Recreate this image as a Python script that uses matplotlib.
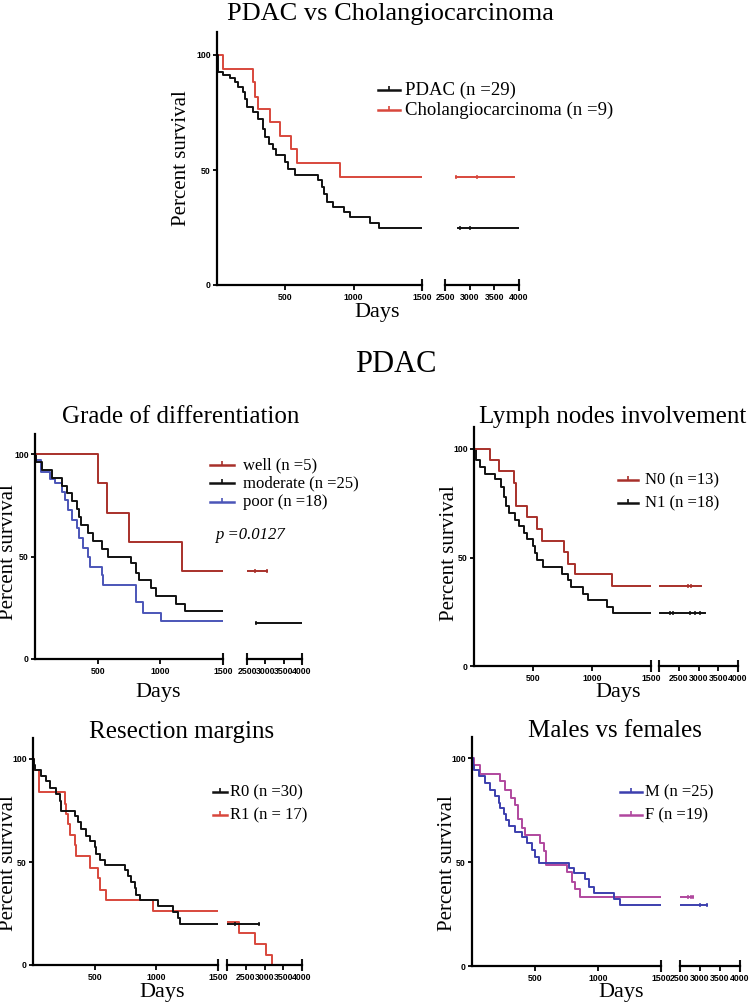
import numpy as np
import matplotlib
matplotlib.use('Agg')
import matplotlib.pyplot as plt
from matplotlib.lines import Line2D

plt.rcParams['font.family'] = ['Liberation Serif', 'DejaVu Serif']

# ---- data (days, percent survival) ----
# PDAC vs Cholangiocarcinoma
pdac_t = [0, 5, 46, 95, 132, 156, 188, 205, 222, 261, 303, 335, 352, 383, 413, 432,
          498, 523, 571, 742, 767, 784, 803, 852, 926, 974, 1121, 1182, 1500]
pdac_s = [100, 92.8, 91.3, 89.9, 88.2, 86.0, 83.8, 80.9, 77.3, 75.4, 72.3, 67.9, 64.3,
          61.4, 59.2, 56.4, 53.5, 50.6, 47.7, 45.5, 42.6, 39.7, 36.1, 34.0, 31.8, 29.6,
          27.0, 24.9, 24.9]
pdac_t2 = [2770, 4000]
pdac_s2 = [24.9, 24.9]
pdac_cens = [2800, 3000]

chol_t = [0, 46, 261, 278, 303, 388, 462, 540, 584, 901, 1500]
chol_s = [100, 93.9, 88.2, 81.9, 76.6, 70.8, 64.7, 59.0, 53.0, 47.0, 47.0]
chol_t2 = [2720, 3890]
chol_s2 = [47.0, 47.0]
chol_cens = [2720, 3150]

# Grade of differentiation
well_t = [0, 499, 576, 748, 1175, 1500]
well_s = [100, 85.7, 71.4, 57.1, 42.9, 42.9]
well_t2 = [2500, 3040]
well_s2 = [42.9, 42.9]
well_cens = [2725, 3040]

moderate_t = [0, 8, 53, 133, 212, 252, 292, 332, 353, 371, 424, 464, 531, 584, 769,
              804, 830, 928, 968, 1127, 1194, 1500]
moderate_s = [100, 96.2, 92.3, 88.5, 84.6, 80.8, 76.9, 73.1, 69.2, 65.4, 61.5, 57.7,
              53.8, 50.0, 46.8, 41.9, 38.6, 34.6, 30.5, 27.0, 23.2, 23.2]
moderate_t2 = [2750, 4000]
moderate_s2 = [17.5, 17.5]
moderate_cens = [2750]

poor_t = [0, 8, 45, 119, 159, 212, 239, 265, 292, 332, 350, 385, 424, 438, 531, 544,
          809, 862, 1008, 1500]
poor_s = [100, 97, 91, 88, 85.7, 81.7, 77.6, 72.7, 67.9, 63.8, 59, 54, 50, 45, 41,
          36.2, 27.6, 22.4, 18.3, 18.3]

# Lymph nodes involvement
n0_t = [0, 133, 210, 340, 354, 451, 536, 578, 766, 800, 856, 1168, 1500]
n0_s = [100, 94.9, 89.8, 84.2, 73.7, 68.5, 63.1, 57.7, 52.6, 47.2, 42.2, 36.8, 36.8]
n0_t2 = [2000, 3072]
n0_s2 = [36.8, 36.8]
n0_cens = [2734, 2818]

n1_t = [0, 20, 48, 91, 176, 232, 252, 269, 298, 346, 383, 422, 445, 496, 516, 530,
        587, 743, 800, 820, 927, 970, 1126, 1182, 1500]
n1_s = [100, 95, 91.5, 88.5, 86.2, 82.3, 77.7, 73.8, 70.3, 67.5, 64.6, 61.5, 58.5,
        55.4, 52.3, 48.8, 45.7, 42.6, 39.5, 36.5, 33.4, 30.3, 27.2, 24.6, 24.6]
n1_t2 = [2000, 3156]
n1_s2 = [24.6, 24.6]
n1_cens = [2270, 2354, 2776, 2903, 3030]

# Resection margins
r0_t = [0, 8, 14, 68, 108, 135, 189, 216, 230, 338, 365, 392, 432, 459, 500, 514, 541,
        581, 743, 770, 797, 824, 838, 865, 1014, 1135, 1176, 1189, 1500]
r0_s = [100, 97.2, 94.5, 91.9, 89.1, 85.9, 83, 79.4, 74.6, 72.1, 69.2, 66, 62.7, 60,
        57.5, 54, 51, 48.6, 46.2, 43.4, 40.5, 37.3, 34, 31.6, 28.4, 25.9, 22.7, 20, 20]
r0_t2 = [2000, 2850]
r0_s2 = [20, 20]
r0_cens = [2225, 2850]

r1_t = [0, 8, 49, 257, 270, 284, 297, 338, 351, 459, 527, 541, 589, 973, 1500]
r1_s = [100, 94.5, 83.8, 78.3, 73.4, 68.6, 63.2, 58.3, 52.7, 47, 42.1, 36.5, 31.6,
        26.4, 26.4]
r1_t2 = [2000, 2320, 2740, 3030, 3190]
r1_s2 = [21, 15.4, 10.2, 4.9, 0]

# Males vs females
m_t = [0, 8, 13, 53, 106, 146, 185, 212, 225, 257, 272, 291, 344, 397, 437, 476, 503,
       529, 767, 807, 899, 926, 966, 1124, 1177, 1500]
m_s = [100, 96.5, 94.1, 91.2, 88, 84.8, 81.6, 78.4, 76.2, 73.3, 70.4, 67.2, 64.5, 62,
       58.9, 55.7, 52.5, 49.3, 46.9, 44.5, 41.6, 38.1, 35.2, 32, 29.3, 29.3]
m_t2 = [2500, 3170]
m_s2 = [29.3, 29.3]
m_cens = [3000, 3170]

f_t = [0, 13, 61, 225, 265, 310, 344, 362, 397, 423, 537, 569, 590, 754, 794, 820, 854, 1500]
f_s = [100, 96.5, 92.5, 89, 84.8, 81, 77.3, 70.9, 66.4, 62.9, 59.2, 55.4, 48.5, 45.3,
       40.5, 36.8, 33, 33]
f_t2 = [2500, 2830]
f_s2 = [33, 33]
f_cens = [2700, 2780, 2830]

BLACK = '#111111'
RED = '#d8473c'
DARKRED = '#a8302a'
BLUE = '#4b55b8'
NAVY = '#3c3fae'
MAGENTA = '#b0479e'
TICKFONT = ['Liberation Sans Narrow', 'Liberation Sans', 'DejaVu Sans']

W, H = 753, 1006
fig = plt.figure(figsize=(W / 100, H / 100), dpi=100)


def fx(px):
    return px / W


def fy(py):
    return 1 - py / H


def panel(x0, x1, x2, x3, y0, y100, lo2):
    # two axis segments with a break between 1500 and lo2 days
    ytop = y0 - (y0 - y100) * 1.10
    h = (y0 - ytop) / H
    ax1 = fig.add_axes([fx(x0), fy(y0), (x1 - x0) / W, h])
    ax2 = fig.add_axes([fx(x2), fy(y0), (x3 - x2) / W, h])
    ax1.set_xlim(0, 1500)
    ax2.set_xlim(lo2, 4000)
    for ax in (ax1, ax2):
        ax.set_ylim(0, 110)
        ax.patch.set_alpha(0)
        for sp in ('top', 'right'):
            ax.spines[sp].set_visible(False)
        ax.spines['bottom'].set_linewidth(1.6)
        ax.spines['left'].set_linewidth(1.6)
        ax.tick_params(width=1.3, length=3.5, direction='out', pad=2.5, labelsize=6.3)
    ax1.tick_params(axis='y', length=3, pad=1.5)
    ax2.spines['left'].set_visible(False)
    ax2.set_yticks([])
    ax1.set_yticks([0, 50, 100])
    ax1.set_xticks([500, 1000, 1500])
    ax2.set_xticks([2500, 3000, 3500, 4000])
    for ax in (ax1, ax2):
        for lbl in ax.get_xticklabels() + ax.get_yticklabels():
            lbl.set_fontfamily(TICKFONT)
            lbl.set_fontweight('bold')
    ax1.plot([1500], [0], ls='none', marker='|', ms=8, mew=1.5, color=BLACK, clip_on=False)
    ax2.plot([lo2, 4000], [0, 0], ls='none', marker='|', ms=8, mew=1.5, color=BLACK, clip_on=False)
    return ax1, ax2


def curve(axs, t, s, color, t2=None, s2=None, cens=None):
    ax1, ax2 = axs
    ax1.step(t, s, where='post', color=color, lw=1.4)
    if t2 is not None:
        ax2.step(t2, s2, where='post', color=color, lw=1.4)
        if cens:
            idx = np.searchsorted(t2, cens, side='right') - 1
            ax2.plot(cens, np.array(s2)[idx], ls='none', marker='|', ms=3.5,
                     mew=1.1, color=color)


def legend_row(xa, xb, xt, y, color, label, size):
    fig.add_artist(Line2D([fx(xa), fx((xa + xb) / 2), fx(xb)], [fy(y)] * 3,
                          color=color, lw=1.8, marker=2, ms=3, mew=1.2,
                          markevery=[1], transform=fig.transFigure))
    fig.text(fx(xt), fy(y), label, ha='left', va='center', fontsize=size)


def labels(title, tx, ty, ylx, yly, dx, dy):
    fig.text(fx(tx), fy(ty), title, ha='center', va='center', fontsize=18)
    fig.text(fx(ylx), fy(yly), 'Percent survival', ha='center', va='center',
             rotation=90, fontsize=15)
    fig.text(fx(dx), fy(dy), 'Days', ha='center', va='center', fontsize=16)


# top chart
top = panel(217, 422, 445, 519, 285, 55, 2500)
curve(top, chol_t, chol_s, RED, chol_t2, chol_s2, chol_cens)
curve(top, pdac_t, pdac_s, BLACK, pdac_t2, pdac_s2, pdac_cens)
fig.text(fx(390), fy(14), 'PDAC vs Cholangiocarcinoma', ha='center', va='center', fontsize=19)
fig.text(fx(182), fy(158), 'Percent survival', ha='center', va='center', rotation=90, fontsize=15)
fig.text(fx(377), fy(312), 'Days', ha='center', va='center', fontsize=16)
legend_row(378, 400, 405, 90, BLACK, 'PDAC (n =29)', 13.5)
legend_row(378, 400, 405, 110, RED, 'Cholangiocarcinoma (n =9)', 13.5)

fig.text(fx(396), fy(365), 'PDAC', ha='center', va='center', fontsize=22)

# grade of differentiation
g = panel(35, 223, 247, 302, 659, 454, 2500)
curve(g, poor_t, poor_s, BLUE)
curve(g, moderate_t, moderate_s, BLACK, moderate_t2, moderate_s2, moderate_cens)
curve(g, well_t, well_s, DARKRED, well_t2, well_s2, well_cens)
labels('Grade of differentiation', 181, 417, 9, 552, 158, 693)
legend_row(210, 234, 243, 465, DARKRED, 'well (n =5)', 12)
legend_row(210, 234, 243, 483, BLACK, 'moderate (n =25)', 12)
legend_row(210, 234, 243, 502, BLUE, 'poor (n =18)', 12)
fig.text(fx(216), fy(535), 'p =0.0127', ha='left', va='center', fontsize=12, style='italic')

# lymph nodes involvement
ln = panel(474, 651, 659, 738, 666, 449, 2000)
curve(ln, n1_t, n1_s, BLACK, n1_t2, n1_s2, n1_cens)
curve(ln, n0_t, n0_s, DARKRED, n0_t2, n0_s2, n0_cens)
labels('Lymph nodes involvement', 613, 417, 449, 553, 618, 693)
legend_row(618, 638, 645, 480, DARKRED, 'N0 (n =13)', 12)
legend_row(618, 638, 645, 503, BLACK, 'N1 (n =18)', 12)

# resection margins
rm = panel(33, 218, 227, 302, 965, 759, 2000)
curve(rm, r1_t, r1_s, RED, r1_t2, r1_s2)
curve(rm, r0_t, r0_s, BLACK, r0_t2, r0_s2, r0_cens)
labels('Resection margins', 182, 732, 9, 863, 162, 993)
legend_row(213, 227, 230, 792, BLACK, 'R0 (n =30)', 12)
legend_row(213, 227, 230, 815, RED, 'R1 (n = 17)', 12)

# males vs females
mf = panel(472, 661, 680, 740, 966, 758, 2500)
curve(mf, f_t, f_s, MAGENTA, f_t2, f_s2, f_cens)
curve(mf, m_t, m_s, NAVY, m_t2, m_s2, m_cens)
labels('Males vs females', 615, 731, 448, 863, 621, 993)
legend_row(620, 642, 645, 792, NAVY, 'M (n =25)', 12)
legend_row(620, 642, 645, 815, MAGENTA, 'F (n =19)', 12)

fig.savefig('out.png', dpi=100, facecolor='white')
